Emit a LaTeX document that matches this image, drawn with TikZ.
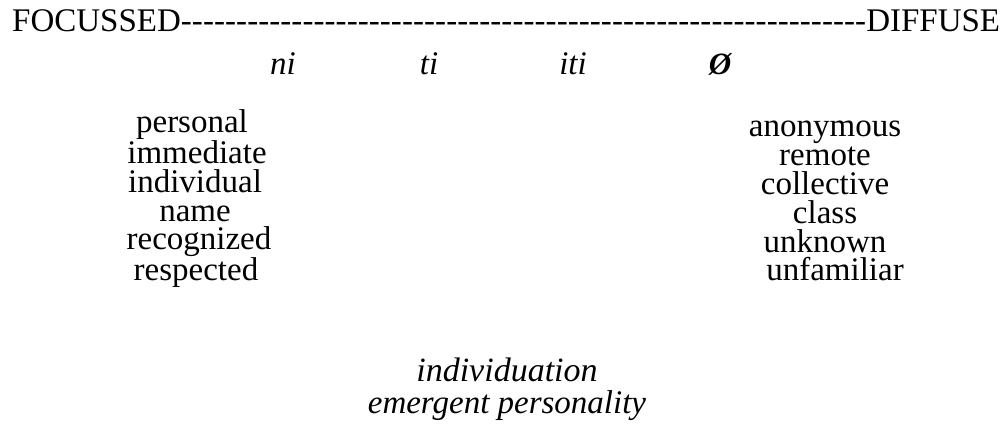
\documentclass[tikz,border=0pt]{standalone}
\usepackage{fontspec}
\setmainfont{Liberation Serif}
\begin{document}
\begin{tikzpicture}[x=1pt,y=-1pt,
  txt/.style={inner sep=0pt, anchor=base, font=\fontsize{33}{33}\selectfont},
  itxt/.style={txt, font=\fontsize{33}{33}\selectfont\itshape},
  column/.style={inner sep=0pt, anchor=base, align=center,
    font=\fontsize{33}{28.8}\selectfont}]
\useasboundingbox (0,0) rectangle (1006,427);
% scale line, the hyphens filling the gap between the two poles
\node[txt, anchor=base west] (scale) at (12,32)
  {\hbox to 988pt{FOCUSSED\xleaders\hbox{-}\hfill DIFFUSE}};
% suffixes
\node[itxt] (ni)  at (283,75) {ni};
\node[itxt] (ti)  at (429,75) {ti};
\node[itxt] (iti) at (573,75) {iti};
\node[itxt, font=\fontsize{31}{31}\selectfont\itshape\bfseries] (zero) at (720,75) {Ø};
% focussed pole (anchored on the baseline of its last line)
\node[column] (left) at (195,281)
  {personal\hspace*{6pt}\\ \hspace*{4pt}immediate\\ individual\hspace*{2pt}\\
   name\hspace*{10pt}\\ \hspace*{8pt}recognized\\ \hspace*{2pt}respected};
% diffuse pole
\node[column] (right) at (825,281)
  {anonymous\\ remote\\ collective\\ class\\ unknown\\ \hspace*{20pt}unfamiliar};
% outcome
\node[column, font=\fontsize{34}{32}\selectfont\itshape] (outcome) at (507,413)
  {individuation\\ {\fontsize{33}{32}\selectfont emergent personality}};
\end{tikzpicture}
\end{document}
